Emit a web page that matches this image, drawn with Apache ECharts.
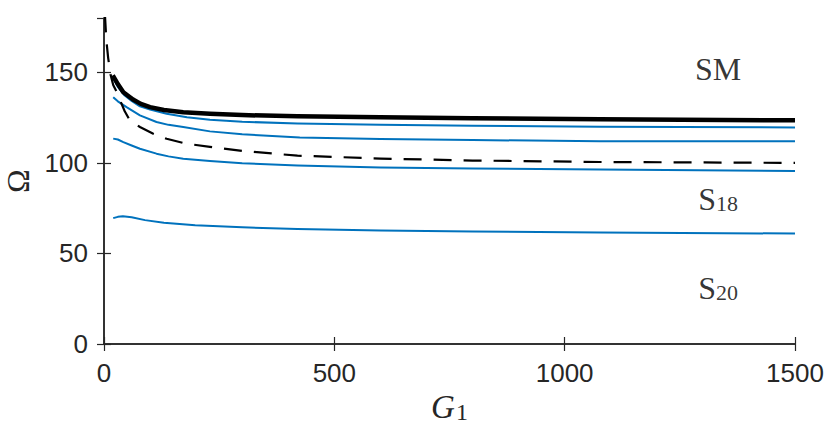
<!DOCTYPE html>
<html>
<head>
    <meta charset="utf-8">
    <title>Omega vs G1</title>
    <script src="https://cdn.jsdelivr.net/npm/echarts@6/dist/echarts.min.js"></script>
    <style>
        html, body { margin: 0; padding: 0; background: #fff; }
        #main { width: 830px; height: 426px; }
    </style>
</head>
<body>
<div id="main"></div>
<script>
    // axis ticks
    var xTicks = [0, 500, 1000, 1500];
    var yTicks = [0, 50, 100, 150];

    // thick black curve (SM)
    var smG = [19, 30, 42, 63, 80, 100, 130, 172, 230, 300, 420, 600, 800, 1077, 1500];
    var smW = [148.3, 143.5, 139, 135, 132.6, 130.8, 129.2, 128, 127.1, 126.4, 125.7, 125.2, 124.7, 124.1, 123.5];

    // dashed black curve
    var dashG = [2, 5, 9, 14, 20, 28, 35, 45, 56, 78, 107, 136, 179, 230, 300, 420, 600, 800, 1077, 1500];
    var dashW = [182, 168, 158, 149, 143, 139, 134.5, 128.5, 123.5, 119.8, 116.1, 113.3, 110.6, 108.8, 106.6, 104, 102.4, 101.3, 100.5, 100];

    // blue curves, top to bottom
    var blueAG = [20, 30, 45, 60, 78, 100, 136, 180, 230, 300, 420, 600, 800, 1077, 1500];
    var blueAW = [146.8, 142, 137.2, 134.2, 131.2, 129.5, 127.1, 125.2, 123.8, 122.7, 121.8, 121, 120.5, 119.9, 119.6];

    var blueBG = [20, 30, 49, 78, 114, 140, 172, 230, 300, 425, 600, 800, 1077, 1500];
    var blueBW = [136.3, 134, 130.8, 126.2, 122.6, 121, 119.8, 117.4, 115.8, 114, 113.2, 112.6, 112, 111.9];

    var blueCG = [20, 30, 42, 60, 78, 114, 140, 172, 230, 300, 420, 600, 800, 1077, 1500];
    var blueCW = [113.4, 112.9, 111.5, 109.6, 107.8, 105.1, 103.6, 102.3, 101, 99.8, 98.5, 97.5, 96.9, 96.3, 95.5];

    var blueDG = [20, 30, 41, 60, 89, 130, 198, 300, 420, 600, 800, 1077, 1500];
    var blueDW = [69.5, 70.2, 70.5, 70, 68.4, 67, 65.6, 64.4, 63.5, 62.7, 62.1, 61.5, 61];

    // region labels
    var labelNames = ['SM', 'S18', 'S20'];
    var labelG = [1333, 1333, 1333];
    var labelW = [153, 81.3, 32.3];

    function pairs(xs, ys) {
        var out = [];
        for (var i = 0; i < xs.length; i++) out.push([xs[i], ys[i]]);
        return out;
    }

    var axisColor = '#262626';
    var blue = '#0072BD';

    function lineSeries(xs, ys, color, width, dash) {
        return {
            type: 'line',
            data: pairs(xs, ys),
            showSymbol: false,
            smooth: false,
            clip: true,
            animation: false,
            lineStyle: { color: color, width: width, type: dash || 'solid', join: 'round' }
        };
    }

    var labelData = [];
    for (var i = 0; i < labelNames.length; i++) {
        labelData.push({ name: labelNames[i], value: [labelG[i], labelW[i]] });
    }

    var myChart = echarts.init(document.getElementById('main'), null, { renderer: 'svg' });
    myChart.setOption({
        animation: false,
        grid: { left: 104, right: 35, top: 18, bottom: 82, outerBoundsMode: 'none', containLabel: false },
        xAxis: [{
            type: 'value', min: xTicks[0], max: xTicks[xTicks.length - 1], interval: 500,
            position: 'bottom',
            name: '{g|G}{s|1}',
            nameLocation: 'middle',
            nameGap: 30,
            nameTextStyle: {
                rich: {
                    g: { fontFamily: 'Liberation Serif', fontStyle: 'italic', fontSize: 33, color: axisColor, lineHeight: 36, verticalAlign: 'bottom' },
                    s: { fontFamily: 'Liberation Serif', fontSize: 24, color: axisColor, lineHeight: 24, verticalAlign: 'bottom', padding: [0, 0, 0, 1] }
                }
            },
            axisLine: { show: true, lineStyle: { color: axisColor, width: 1.5 } },
            axisTick: { show: true, inside: true, length: 7, lineStyle: { color: axisColor, width: 1.2 } },
            axisLabel: {
                fontFamily: 'Liberation Sans', fontSize: 26, color: axisColor, margin: 16,
                formatter: function (v) { return String(v); }
            },
            splitLine: { show: false }
        }, {
            type: 'value', min: xTicks[0], max: xTicks[xTicks.length - 1], interval: 500,
            position: 'top',
            axisLine: { show: true, lineStyle: { color: axisColor, width: 1.5 } },
            axisTick: { show: true, inside: true, length: 7, lineStyle: { color: axisColor, width: 1.2 } },
            axisLabel: { show: false },
            splitLine: { show: false }
        }],
        yAxis: [{
            type: 'value', min: 0, max: 180, interval: 50,
            position: 'left',
            name: 'Ω',
            nameLocation: 'middle',
            nameRotate: 90,
            nameGap: 70,
            nameTextStyle: { fontFamily: 'Liberation Serif', fontSize: 32, color: axisColor },
            axisLine: { show: true, lineStyle: { color: axisColor, width: 1.5 } },
            axisTick: { show: true, inside: true, length: 7, lineStyle: { color: axisColor, width: 1.2 } },
            axisLabel: {
                fontFamily: 'Liberation Sans', fontSize: 26, color: axisColor, margin: 16,
                showMaxLabel: false,
                formatter: function (v) { return yTicks.indexOf(v) >= 0 ? String(v) : ''; }
            },
            splitLine: { show: false }
        }, {
            type: 'value', min: 0, max: 180, interval: 50,
            position: 'right',
            axisLine: { show: true, lineStyle: { color: axisColor, width: 1.5 } },
            axisTick: { show: true, inside: true, length: 7, lineStyle: { color: axisColor, width: 1.2 } },
            axisLabel: { show: false },
            splitLine: { show: false }
        }],
        series: [
            lineSeries(blueDG, blueDW, blue, 2),
            lineSeries(blueCG, blueCW, blue, 2),
            lineSeries(blueBG, blueBW, blue, 2),
            lineSeries(blueAG, blueAW, blue, 2),
            lineSeries(dashG, dashW, '#000', 2.2, [18, 12]),
            lineSeries(smG, smW, '#000', 4.5),
            {
                type: 'scatter',
                symbolSize: 0,
                data: labelData,
                silent: true,
                label: {
                    show: true,
                    position: 'inside',
                    formatter: function (p) {
                        if (p.name === 'SM') return '{s|SM}';
                        return '{s|S}{sub|' + p.name.slice(1) + '}';
                    },
                    rich: {
                        s: { fontFamily: 'Liberation Serif', fontSize: 32, color: '#000', lineHeight: 36, verticalAlign: 'bottom' },
                        sub: { fontFamily: 'Liberation Serif', fontSize: 22, color: '#000', lineHeight: 22, verticalAlign: 'bottom' }
                    }
                }
            }
        ]
    });
</script>
</body>
</html>
